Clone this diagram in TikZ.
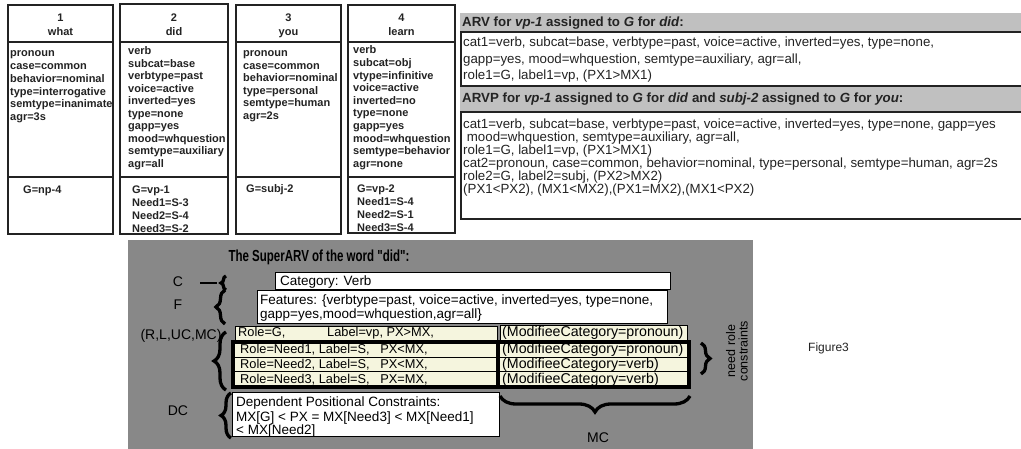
\documentclass[tikz,border=0pt]{standalone}
\usepackage{fontspec}
\setmainfont{Liberation Sans}
\newfontfamily\titlefont[FakeStretch=0.72]{Liberation Sans}
\usetikzlibrary{decorations.pathreplacing}
\definecolor{figgrey}{RGB}{136,136,136}
\definecolor{hdrgrey}{RGB}{192,192,192}
\definecolor{cream}{RGB}{245,245,222}
\definecolor{ink}{RGB}{35,35,35}
\tikzset{
  coltext/.style={anchor=base west, inner sep=0, text=ink, font=\bfseries\fontsize{11}{12}\selectfont},
  colhead/.style={anchor=base, inner sep=0, text=ink, font=\bfseries\fontsize{11}{13}\selectfont},
  colbox/.style={draw=ink, line width=1.1pt},
  rtext/.style={anchor=base west, inner sep=0, text=ink, font=\fontsize{13.3}{15}\selectfont},
  rhead/.style={anchor=base west, inner sep=0, text=ink, font=\bfseries\fontsize{13.3}{15}\selectfont},
  ftext/.style={anchor=base west, inner sep=0, text=black, font=\fontsize{13.5}{15}\selectfont},
  rowtext/.style={anchor=base west, inner sep=0, text=black, font=\fontsize{12.8}{14}\selectfont},
  modtext/.style={anchor=base west, inner sep=0, text=black, font=\fontsize{14.2}{16}\selectfont},
  flabel/.style={anchor=base, inner sep=0, text=black, font=\fontsize{14}{16}\selectfont},
  bigbrace/.style={decorate, decoration={brace, amplitude=#1}, line width=3.3pt, draw=black},
  whitebox/.style={fill=white, draw=black, line width=0.9pt},
  creambox/.style={fill=cream, draw=black, line width=0.9pt},
}
\begin{document}
\begin{tikzpicture}[x=1pt,y=-1pt]
\useasboundingbox (0,0) rectangle (1021,449);
\clip (0,0) rectangle (1021,449);
\fill[white] (0,0) rectangle (1021,449);

% ---------- four word columns ----------
\draw[colbox] (8,5) rectangle (113,234) (8,42) -- (113,42) (8,177) -- (113,177);
\draw[colbox] (120,4) rectangle (228,234) (120,42) -- (228,42) (120,177) -- (228,177);
\draw[colbox] (236,5) rectangle (341,234) (236,42) -- (341,42) (236,177) -- (341,177);
\draw[colbox] (348,5) rectangle (455,233) (348,42) -- (455,42) (348,177) -- (455,177);

\node[colhead] (h1n) at (60.5,22) {1};  \node[colhead] (h1w) at (60.5,36) {what};
\node[colhead] (h2n) at (174,22) {2};   \node[colhead] (h2w) at (174,36) {did};
\node[colhead] (h3n) at (288.5,22) {3}; \node[colhead] (h3w) at (288.5,36) {you};
\node[colhead] (h4n) at (401.5,22) {4}; \node[colhead] (h4w) at (401.5,36) {learn};

\foreach \t [count=\i from 0] in {pronoun,case=common,behavior=nominal,type=interrogative,semtype=inanimate,agr=3s}
  \node[coltext] (c1f\i) at (10,{57+12.7*\i}) {\t};
\foreach \t [count=\i from 0] in {verb,subcat=base,verbtype=past,voice=active,inverted=yes,type=none,gapp=yes,mood=whquestion,semtype=auxiliary,agr=all}
  \node[coltext] (c2f\i) at (128,{55+12.5*\i}) {\t};
\foreach \t [count=\i from 0] in {pronoun,case=common,behavior=nominal,type=personal,semtype=human,agr=2s}
  \node[coltext] (c3f\i) at (243,{57+12.5*\i}) {\t};
\foreach \t [count=\i from 0] in {verb,subcat=obj,vtype=infinitive,voice=active,inverted=no,type=none,gapp=yes,mood=whquestion,semtype=behavior,agr=none}
  \node[coltext] (c4f\i) at (353,{54+12.6*\i}) {\t};

\node[coltext] (c1g0) at (23,194) {G=np-4};
\foreach \t [count=\i from 0] in {G=vp-1,Need1=S-3,Need2=S-4,Need3=S-2}
  \node[coltext] (c2g\i) at (132,{194+12.7*\i}) {\t};
\node[coltext] (c3g0) at (246,193) {G=subj-2};
\foreach \t [count=\i from 0] in {G=vp-2,Need1=S-4,Need2=S-1,Need3=S-4}
  \node[coltext] (c4g\i) at (357,{193+12.7*\i}) {\t};

% ---------- ARV / ARVP panels ----------
\fill[hdrgrey] (460,13) rectangle (1021,31);
\node[rhead] (arvh) at (462,27) {ARV for \textit{vp-1} assigned to \textit{G} for \textit{did}:};
\draw[colbox] (461,32) rectangle (1030,86);
\node[rtext] (arv1) at (463,47) {cat1=verb, subcat=base, verbtype=past, voice=active, inverted=yes, type=none,};
\node[rtext] (arv2) at (463,64) {gapp=yes, mood=whquestion, semtype=auxiliary, agr=all,};
\node[rtext] (arv3) at (463,80) {role1=G, label1=vp, (PX1>MX1)};

\fill[hdrgrey] (460,87) rectangle (1021,111);
\node[rhead] (arvph) at (462,103) {ARVP for \textit{vp-1} assigned to \textit{G} for \textit{did} and \textit{subj-2} assigned to \textit{G} for \textit{you}:};
\draw[colbox] (461,112) rectangle (1030,219);
\foreach \t [count=\i from 0] in {{cat1=verb, subcat=base, verbtype=past, voice=active, inverted=yes, type=none, gapp=yes},
  {\ mood=whquestion, semtype=auxiliary, agr=all,},
  {role1=G, label1=vp, (PX1>MX1)},
  {cat2=pronoun, case=common, behavior=nominal, type=personal, semtype=human, agr=2s},
  {role2=G, label2=subj, (PX2>MX2)},
  {(PX1<PX2), (MX1<MX2),(PX1=MX2),(MX1<PX2)}}
  \node[rtext] (arvp\i) at (463,{129+13*\i}) {\t};

% ---------- SuperARV figure ----------
\fill[figgrey] (128,240) rectangle (753,449);
\node[anchor=base, inner sep=0, font=\titlefont\bfseries\fontsize{16}{18}\selectfont] (title) at (319,262) {The SuperARV of the word "did":};

\node[whitebox, minimum width=395pt, minimum height=17pt, anchor=north west, inner sep=0] (cat) at (275,272) {};
\node[ftext] (catt) at (280,286) {Category: Verb};
\node[whitebox, minimum width=410pt, minimum height=33pt, anchor=north west, inner sep=0] (feat) at (257,290) {};
\node[ftext] (feat1) at (260,305) {Features: \{verbtype=past, voice=active, inverted=yes, type=none,};
\node[ftext] (feat2) at (260,319) {gapp=yes,mood=whquestion,agr=all\}};

% row 1
\node[creambox, minimum width=262pt, minimum height=15pt, anchor=north west, inner sep=0] (r1l) at (235,326) {};
\node[creambox, minimum width=187pt, minimum height=16pt, anchor=north west, inner sep=0] (r1r) at (500,325) {};
\node[rowtext] (r1a) at (238,337) {Role=G,};
\node[rowtext] (r1b) at (327,337) {Label=vp, PX>MX,};
\node[modtext] (r1c) at (502,337) {(ModifieeCategory=pronoun)};
% rows 2-4
\fill[cream] (235,343) rectangle (688,386);
\draw[black, line width=0.9pt] (235,357) -- (688,357) (235,371) -- (688,371);
\draw[black, line width=3.5pt] (233,342) rectangle (689,387) (498,342) -- (498,387);
\foreach \n/\p/\m [count=\i from 0] in {1/PX<MX/pronoun,2/PX<MX/verb,3/PX=MX/verb}{
  \node[rowtext] (rr\i a) at (240,{354+14.5*\i}) {Role=Need\n, Label=S,\ \ \ \p,};
  \node[modtext] (rr\i c) at (502,{354+14.5*\i}) {(ModifieeCategory=\m)};
}
% DC box
\node[whitebox, minimum width=267pt, minimum height=44pt, anchor=north west, inner sep=0] (dcbox) at (232,392) {};
\node[ftext] (dc1) at (236,406) {Dependent Positional Constraints:};
\node[ftext] (dc2) at (236,421) {MX[G] < PX = MX[Need3] < MX[Need1]};
\node[ftext] (dc3) at (236,434) {< MX[Need2]};

% labels and braces
\node[flabel] (lc) at (178,287) {C};
\node[flabel] (lf) at (178,310) {F};
\node[flabel] (lr) at (181,340) {(R,L,UC,MC)};
\node[flabel] (ldc) at (178,415) {DC};
\node[flabel] (lmc) at (598,442) {MC};
\coordinate (cdash) at (200,283);
\coordinate (cbr) at (217,283);
\draw[black, line width=1.2pt] (cdash) -- (cbr);
\draw[bigbrace=5pt] (226,290) -- (226,276);
\draw[bigbrace=9pt] (225,324) -- (225,290);
\coordinate (rdash) at (lr.east);
\coordinate (rbr) at (222,335);
\draw[black, line width=1.2pt] (rdash |- rbr) -- (rbr);
\draw[bigbrace=12pt] (226,390) -- (226,332);
\draw[bigbrace=10pt] (231,438) -- (231,393);
\draw[bigbrace=9pt] (701,343) -- (701,374);
\draw[bigbrace=16pt] (690,396) -- (500,396);
\node[rotate=90, align=center, inner sep=0, text=black, font=\fontsize{12.5}{12.5}\selectfont] (nrc) at (737,351) {need role\\constraints};

\node[anchor=base west, inner sep=0, text=ink, font=\fontsize{12}{14}\selectfont] (fig) at (808,352) {Figure3};
\end{tikzpicture}
\end{document}
